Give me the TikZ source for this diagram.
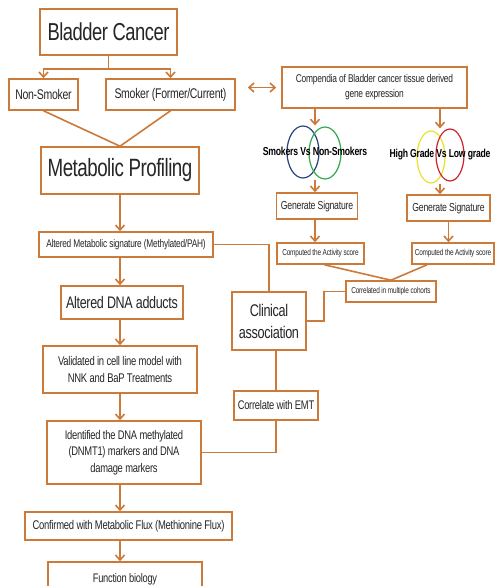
\documentclass[tikz,border=0pt]{standalone}
\usepackage{fontspec}
\setmainfont{Liberation Sans}[FakeStretch=0.75,LetterSpace=-2]
\usetikzlibrary{arrows.meta,positioning,calc,shapes.geometric}
\definecolor{boxorange}{RGB}{204,122,58}
\definecolor{vennblue}{RGB}{40,70,120}
\definecolor{venngreen}{RGB}{50,170,80}
\definecolor{vennyellow}{RGB}{235,225,40}
\definecolor{vennred}{RGB}{205,35,45}

\begin{document}
\begin{tikzpicture}[x=1pt,y=-1pt,
  box/.style={draw=boxorange,line width=1.6pt,fill=white,inner sep=0pt,align=center,text=black!85},
  line/.style={draw=boxorange,line width=1.6pt},
  arr/.style={line,-{Straight Barb[length=5pt,width=9pt]}},
  dbl/.style={line,{Straight Barb[length=5pt,width=9pt]}-{Straight Barb[length=5pt,width=9pt]}},
  venn/.style={ellipse,line width=1.2pt,inner sep=0pt,minimum width=32,minimum height=52}]
  \fill[white] (0,0) rectangle (497,586); % 背景
  \useasboundingbox (0,0) rectangle (497,586);

  % 左の列（上から下へ）
  \node[box,minimum width=137,minimum height=46,font=\fontsize{24.5}{28}\selectfont] (bc) at (108.5,32) {Bladder Cancer};
  \node[box,minimum width=69,minimum height=31,font=\fontsize{14}{17}\selectfont] (nonsmk) at (43.5,94.5) {Non-Smoker};
  \node[box,minimum width=129,minimum height=31,font=\fontsize{14}{17}\selectfont] (smk) at (170.5,94.5) {Smoker (Former/Current)};
  \node[box,minimum width=158,minimum height=47,font=\fontsize{25}{29}\selectfont] (mp) at (120,170.5) {Metabolic Profiling};
  \node[box,minimum width=174,minimum height=25,font=\fontsize{11.1}{14}\selectfont] (ams) at (126,244.5) {Altered Metabolic signature (Methylated/PAH)};
  \node[box,minimum width=122,minimum height=33,font=\fontsize{16.7}{20}\selectfont] (dna) at (122,302.5) {Altered DNA adducts};
  \node[box,minimum width=154,minimum height=47,font=\fontsize{12.6}{16.5}\selectfont] (valid) at (120,369.5) {Validated in cell line model with\\NNK and BaP Treatments};
  \node[box,minimum width=154,minimum height=63,font=\fontsize{12.5}{16.5}\selectfont] (ident) at (124,452.5) {Identified the DNA methylated\\(DNMT1) markers and DNA\\damage markers};
  \node[box,minimum width=207,minimum height=28,font=\fontsize{12.6}{16}\selectfont] (conf) at (128.5,526) {Confirmed with Metabolic Flux (Methionine Flux)};
  \node[box,minimum width=154,minimum height=34,font=\fontsize{12.4}{16}\selectfont] (func) at (125,579) {Function biology}; % 下端は画像の外へはみ出す

  % 右側：遺伝子発現の流れ
  \node[box,minimum width=185,minimum height=41,font=\fontsize{11.2}{15}\selectfont] (comp) at (374.5,87.5) {Compendia of Bladder cancer tissue derived\\gene expression};

  % ベン図（楕円2つずつ）
  \node[venn,draw=vennblue] (vB) at (303,152) {};
  \node[venn,draw=venngreen] (vG) at (325,153) {};
  \node[venn,draw=vennyellow,minimum width=28] (vY) at (431,157) {};
  \node[venn,draw=vennred,minimum width=28] (vR) at (450,155) {};
  \node[font=\bfseries\fontsize{11.6}{14}\selectfont,inner sep=0pt] (vsL) at (315,151) {Smokers Vs Non-Smokers};
  \node[font=\bfseries\fontsize{11.5}{14}\selectfont,inner sep=0pt] (vsR) at (440,155) {High Grade Vs Low grade};

  \node[box,minimum width=81,minimum height=26,font=\fontsize{11.6}{14}\selectfont] (gsL) at (317,206) {Generate Signature};
  \node[box,minimum width=83,minimum height=26,font=\fontsize{11.6}{14}\selectfont] (gsR) at (448.5,208) {Generate Signature};
  \node[box,minimum width=87,minimum height=21,font=\fontsize{8.6}{11}\selectfont] (casL) at (320.5,253.5) {Computed the Activity score};
  \node[box,minimum width=82,minimum height=21,font=\fontsize{8.6}{11}\selectfont] (casR) at (453,253.5) {Computed the Activity score};
  \node[box,minimum width=90,minimum height=21,font=\fontsize{8.6}{11}\selectfont] (corr) at (391,291.5) {Correlated in multiple cohorts};
  \node[box,minimum width=74,minimum height=58,font=\fontsize{16.9}{22}\selectfont] (clin) at (269,321) {Clinical\\association};
  \node[box,minimum width=84,minimum height=29,font=\fontsize{12.5}{15}\selectfont] (emt) at (276,405.5) {Correlate with EMT};

  % 左の列の矢印
  \coordinate (fork) at ($(bc.south)+(0,13)$); % 分岐点
  \draw[line] (bc.south) -- (fork);
  \draw[arr] (fork) -| (nonsmk.north);
  \draw[arr] (fork) -| (smk.north);
  \draw[line] (nonsmk.south) -- (mp.north);
  \draw[line] (smk.south) -- (mp.north);
  \draw[arr] (mp.south) -- (mp.south |- ams.north);
  \draw[arr] (ams.south -| mp.south) -- (mp.south |- dna.north);
  \draw[arr] (dna.south -| mp.south) -- (mp.south |- valid.north);
  \draw[arr] (valid.south -| mp.south) -- (mp.south |- ident.north);
  \draw[arr] (ident.south -| mp.south) -- (mp.south |- conf.north);
  \draw[arr] (conf.south -| mp.south) -- (mp.south |- func.north);

  % 喫煙者の箱と発現データの間の両矢印
  \draw[dbl] ($(smk.east |- comp.west)+(12,0)$) -- ($(comp.west)+(-5,0)$);

  % 右側の矢印
  \draw[arr] (comp.south -| vsL) -- (vsL |- vB.north);
  \draw[arr] (vsL |- vG.south) -- (vsL |- gsL.north);
  \draw[arr] (comp.south -| vsR) -- (vsR |- vR.north);
  \draw[arr] (vsR |- vY.south) -- (vsR |- gsR.north);
  \draw[arr] (gsL.south -| vsL) -- (vsL |- casL.north);
  \draw[arr] (gsR.south) -- (gsR.south |- casR.north);
  \draw[line] ([xshift=4]casL.south) -- (corr.north);
  \draw[line] ([xshift=-26]casR.south) -- (corr.north);
  \draw[line] (corr.west) -- ++(-21,0) |- (clin.east);
  \draw[line] (ams.east) -| (clin.north);
  \draw[line] (clin.south -| emt.north) -- (emt.north);
  \draw[line] (emt.south) |- (ident.east);
\end{tikzpicture}
\end{document}
